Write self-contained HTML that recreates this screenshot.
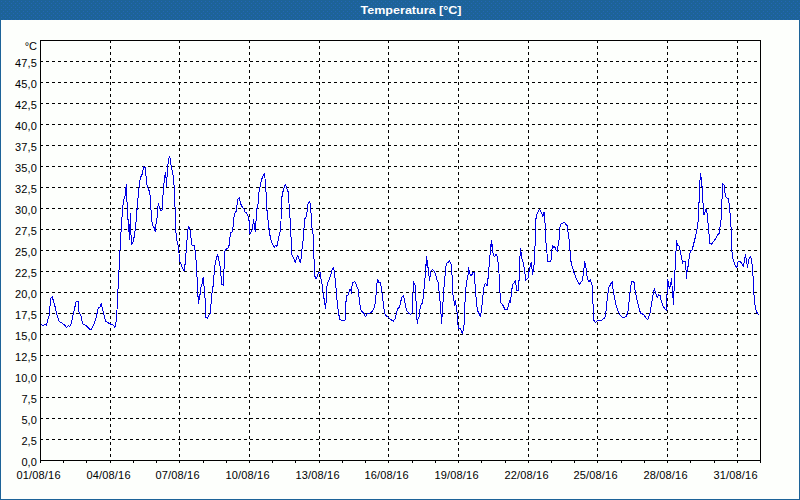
<!DOCTYPE html>
<html><head><meta charset="utf-8"><title>Temperatura</title>
<style>html,body{margin:0;padding:0;background:#fff;}body{width:800px;height:500px;overflow:hidden;font-family:"Liberation Sans",sans-serif;}svg{display:block;}text{font-family:"Liberation Sans",sans-serif;}</style>
</head><body>
<svg width="800" height="500" viewBox="0 0 800 500">
<rect x="0" y="0" width="800" height="500" fill="#1d6398"/>
<rect x="1" y="20" width="798" height="479" fill="#fdfffc"/>
<defs><pattern id="dz" x="0" y="0" width="4" height="4" patternUnits="userSpaceOnUse"><rect x="1" y="1" width="1" height="1" fill="#2366b6"/><rect x="3" y="3" width="1" height="1" fill="#2366b6"/></pattern></defs>
<rect x="0" y="0" width="800" height="20" fill="url(#dz)" shape-rendering="crispEdges"/>
<text x="411" y="14" text-anchor="middle" font-size="11px" font-weight="bold" fill="#ffffff" textLength="101" lengthAdjust="spacingAndGlyphs">Temperatura [°C]</text>
<g shape-rendering="crispEdges" stroke="#000" stroke-width="1" fill="none">
<line x1="40" y1="61.5" x2="760" y2="61.5" stroke-dasharray="3 3"/>
<line x1="40" y1="82.5" x2="760" y2="82.5" stroke-dasharray="3 3"/>
<line x1="40" y1="103.5" x2="760" y2="103.5" stroke-dasharray="3 3"/>
<line x1="40" y1="124.5" x2="760" y2="124.5" stroke-dasharray="3 3"/>
<line x1="40" y1="145.5" x2="760" y2="145.5" stroke-dasharray="3 3"/>
<line x1="40" y1="166.5" x2="760" y2="166.5" stroke-dasharray="3 3"/>
<line x1="40" y1="187.5" x2="760" y2="187.5" stroke-dasharray="3 3"/>
<line x1="40" y1="208.5" x2="760" y2="208.5" stroke-dasharray="3 3"/>
<line x1="40" y1="229.5" x2="760" y2="229.5" stroke-dasharray="3 3"/>
<line x1="40" y1="250.5" x2="760" y2="250.5" stroke-dasharray="3 3"/>
<line x1="40" y1="271.5" x2="760" y2="271.5" stroke-dasharray="3 3"/>
<line x1="40" y1="292.5" x2="760" y2="292.5" stroke-dasharray="3 3"/>
<line x1="40" y1="313.5" x2="760" y2="313.5" stroke-dasharray="3 3"/>
<line x1="40" y1="334.5" x2="760" y2="334.5" stroke-dasharray="3 3"/>
<line x1="40" y1="355.5" x2="760" y2="355.5" stroke-dasharray="3 3"/>
<line x1="40" y1="376.5" x2="760" y2="376.5" stroke-dasharray="3 3"/>
<line x1="40" y1="397.5" x2="760" y2="397.5" stroke-dasharray="3 3"/>
<line x1="40" y1="418.5" x2="760" y2="418.5" stroke-dasharray="3 3"/>
<line x1="40" y1="439.5" x2="760" y2="439.5" stroke-dasharray="3 3"/>
<line x1="110.5" y1="40" x2="110.5" y2="460" stroke-dasharray="3 3"/>
<line x1="179.5" y1="40" x2="179.5" y2="460" stroke-dasharray="3 3"/>
<line x1="249.5" y1="40" x2="249.5" y2="460" stroke-dasharray="3 3"/>
<line x1="319.5" y1="40" x2="319.5" y2="460" stroke-dasharray="3 3"/>
<line x1="388.5" y1="40" x2="388.5" y2="460" stroke-dasharray="3 3"/>
<line x1="458.5" y1="40" x2="458.5" y2="460" stroke-dasharray="3 3"/>
<line x1="528.5" y1="40" x2="528.5" y2="460" stroke-dasharray="3 3"/>
<line x1="597.5" y1="40" x2="597.5" y2="460" stroke-dasharray="3 3"/>
<line x1="667.5" y1="40" x2="667.5" y2="460" stroke-dasharray="3 3"/>
<line x1="737.5" y1="40" x2="737.5" y2="460" stroke-dasharray="3 3"/>
<rect x="40.5" y="40.5" width="720" height="420"/>
<line x1="40.5" y1="461" x2="40.5" y2="463"/>
<line x1="63.5" y1="461" x2="63.5" y2="463"/>
<line x1="86.5" y1="461" x2="86.5" y2="463"/>
<line x1="110.5" y1="461" x2="110.5" y2="463"/>
<line x1="133.5" y1="461" x2="133.5" y2="463"/>
<line x1="156.5" y1="461" x2="156.5" y2="463"/>
<line x1="179.5" y1="461" x2="179.5" y2="463"/>
<line x1="203.5" y1="461" x2="203.5" y2="463"/>
<line x1="226.5" y1="461" x2="226.5" y2="463"/>
<line x1="249.5" y1="461" x2="249.5" y2="463"/>
<line x1="272.5" y1="461" x2="272.5" y2="463"/>
<line x1="295.5" y1="461" x2="295.5" y2="463"/>
<line x1="319.5" y1="461" x2="319.5" y2="463"/>
<line x1="342.5" y1="461" x2="342.5" y2="463"/>
<line x1="365.5" y1="461" x2="365.5" y2="463"/>
<line x1="388.5" y1="461" x2="388.5" y2="463"/>
<line x1="412.5" y1="461" x2="412.5" y2="463"/>
<line x1="435.5" y1="461" x2="435.5" y2="463"/>
<line x1="458.5" y1="461" x2="458.5" y2="463"/>
<line x1="481.5" y1="461" x2="481.5" y2="463"/>
<line x1="505.5" y1="461" x2="505.5" y2="463"/>
<line x1="528.5" y1="461" x2="528.5" y2="463"/>
<line x1="551.5" y1="461" x2="551.5" y2="463"/>
<line x1="574.5" y1="461" x2="574.5" y2="463"/>
<line x1="597.5" y1="461" x2="597.5" y2="463"/>
<line x1="621.5" y1="461" x2="621.5" y2="463"/>
<line x1="644.5" y1="461" x2="644.5" y2="463"/>
<line x1="667.5" y1="461" x2="667.5" y2="463"/>
<line x1="690.5" y1="461" x2="690.5" y2="463"/>
<line x1="714.5" y1="461" x2="714.5" y2="463"/>
<line x1="737.5" y1="461" x2="737.5" y2="463"/>
<line x1="760.5" y1="461" x2="760.5" y2="463"/>
</g>
<g font-size="11px" fill="#000">
<text x="37" y="50" text-anchor="end">°C</text>
<text x="36.8" y="67" text-anchor="end" textLength="21.9" lengthAdjust="spacing">47,5</text>
<text x="36.8" y="88" text-anchor="end" textLength="21.9" lengthAdjust="spacing">45,0</text>
<text x="36.8" y="109" text-anchor="end" textLength="21.9" lengthAdjust="spacing">42,5</text>
<text x="36.8" y="130" text-anchor="end" textLength="21.9" lengthAdjust="spacing">40,0</text>
<text x="36.8" y="151" text-anchor="end" textLength="21.9" lengthAdjust="spacing">37,5</text>
<text x="36.8" y="172" text-anchor="end" textLength="21.9" lengthAdjust="spacing">35,0</text>
<text x="36.8" y="193" text-anchor="end" textLength="21.9" lengthAdjust="spacing">32,5</text>
<text x="36.8" y="214" text-anchor="end" textLength="21.9" lengthAdjust="spacing">30,0</text>
<text x="36.8" y="235" text-anchor="end" textLength="21.9" lengthAdjust="spacing">27,5</text>
<text x="36.8" y="256" text-anchor="end" textLength="21.9" lengthAdjust="spacing">25,0</text>
<text x="36.8" y="277" text-anchor="end" textLength="21.9" lengthAdjust="spacing">22,5</text>
<text x="36.8" y="298" text-anchor="end" textLength="21.9" lengthAdjust="spacing">20,0</text>
<text x="36.8" y="319" text-anchor="end" textLength="21.9" lengthAdjust="spacing">17,5</text>
<text x="36.8" y="340" text-anchor="end" textLength="21.9" lengthAdjust="spacing">15,0</text>
<text x="36.8" y="361" text-anchor="end" textLength="21.9" lengthAdjust="spacing">12,5</text>
<text x="36.8" y="382" text-anchor="end" textLength="21.9" lengthAdjust="spacing">10,0</text>
<text x="36.8" y="403" text-anchor="end">7,5</text>
<text x="36.8" y="424" text-anchor="end">5,0</text>
<text x="36.8" y="445" text-anchor="end">2,5</text>
<text x="36.8" y="466" text-anchor="end">0,0</text>
<text x="38.5" y="479" text-anchor="middle" textLength="44" lengthAdjust="spacing">01/08/16</text>
<text x="108.5" y="479" text-anchor="middle" textLength="44" lengthAdjust="spacing">04/08/16</text>
<text x="177.5" y="479" text-anchor="middle" textLength="44" lengthAdjust="spacing">07/08/16</text>
<text x="247.5" y="479" text-anchor="middle" textLength="44" lengthAdjust="spacing">10/08/16</text>
<text x="317.5" y="479" text-anchor="middle" textLength="44" lengthAdjust="spacing">13/08/16</text>
<text x="386.5" y="479" text-anchor="middle" textLength="44" lengthAdjust="spacing">16/08/16</text>
<text x="456.5" y="479" text-anchor="middle" textLength="44" lengthAdjust="spacing">19/08/16</text>
<text x="526.5" y="479" text-anchor="middle" textLength="44" lengthAdjust="spacing">22/08/16</text>
<text x="595.5" y="479" text-anchor="middle" textLength="44" lengthAdjust="spacing">25/08/16</text>
<text x="665.5" y="479" text-anchor="middle" textLength="44" lengthAdjust="spacing">28/08/16</text>
<text x="735.5" y="479" text-anchor="middle" textLength="44" lengthAdjust="spacing">31/08/16</text>
</g>
<polyline shape-rendering="crispEdges" fill="none" stroke="#0000e6" stroke-width="1" stroke-linejoin="bevel" points="40.5,324.6 41.4,324.6 43.2,325.4 45.0,324.2 46.5,325.2 48.0,319.2 49.4,314.4 50.6,298.8 52.2,296.6 52.8,298.8 55.2,307.2 57.6,317.4 59.4,321.6 61.8,322.8 64.8,325.2 66.6,327.4 68.4,325.8 70.0,326.4 71.4,322.8 73.2,314.4 76.2,301.4 78.2,301.4 79.0,312.0 81.0,315.6 82.6,324.0 84.6,324.6 87.6,327.0 89.8,329.2 91.4,329.2 94.2,324.0 96.0,318.0 98.2,308.4 100.2,306.6 101.4,303.6 102.0,307.2 103.8,314.4 105.6,321.0 108.0,322.8 110.4,324.0 112.8,324.6 115.0,327.4 116.0,322.0 117.0,310.0 118.0,289.5 119.0,270.0 120.0,250.0 121.0,232.0 122.0,217.0 123.0,205.0 124.0,199.0 125.4,195.0 126.0,187.2 126.6,184.2 126.8,198.0 127.4,209.0 127.6,218.0 128.4,221.0 129.0,232.4 129.6,239.6 130.0,224.0 130.4,213.2 130.8,230.0 131.4,244.4 133.2,241.4 134.6,234.8 135.8,224.0 136.8,212.0 137.5,204.0 138.0,198.0 139.4,184.8 140.4,177.6 142.0,174.6 143.6,166.8 145.2,167.4 145.8,174.0 147.0,184.8 148.2,189.0 149.4,191.4 150.6,199.2 150.8,206.0 151.4,218.0 152.6,225.8 154.2,227.6 155.4,231.8 156.0,224.0 157.2,216.8 157.8,208.4 158.4,203.0 159.0,206.2 160.2,210.0 162.1,210.0 162.5,206.0 163.2,191.0 164.4,178.8 165.6,172.2 166.2,181.2 166.4,187.2 166.8,180.0 167.6,168.0 168.6,159.0 169.6,156.6 170.4,160.2 171.4,168.0 172.8,172.8 173.8,181.2 174.5,194.4 175.0,207.0 175.4,215.6 175.8,231.2 176.8,240.0 178.0,245.0 179.0,253.4 179.7,261.0 181.4,265.4 183.2,269.6 184.4,270.8 185.5,259.5 186.7,245.0 187.6,231.2 188.6,226.4 190.0,229.6 190.9,237.0 192.0,245.0 194.5,245.3 195.3,252.2 196.4,264.8 197.0,276.8 197.6,278.0 197.8,293.0 198.4,303.8 199.2,294.2 199.6,299.6 200.6,288.2 201.8,285.6 202.6,280.0 203.4,276.8 203.8,286.0 204.8,287.6 205.2,306.8 205.6,317.0 207.2,318.4 209.0,315.2 210.2,313.4 210.8,307.4 211.6,296.6 212.6,287.0 213.8,286.2 214.0,275.6 215.0,264.8 216.2,258.8 217.6,254.6 219.0,261.2 220.4,268.4 221.0,275.6 221.7,284.6 223.4,285.3 223.6,269.6 224.4,268.4 224.6,251.6 225.8,249.4 227.6,248.4 228.9,246.5 229.6,240.2 230.5,233.0 232.1,231.8 233.2,225.6 233.8,219.0 234.4,214.2 236.2,211.2 237.6,199.8 239.4,197.4 240.4,203.4 242.2,207.0 244.0,208.8 245.2,212.4 246.4,213.0 248.2,216.6 249.4,222.4 250.0,233.6 251.8,230.6 252.6,228.8 253.5,219.1 254.2,224.0 255.4,232.4 255.9,224.8 256.2,214.2 257.4,205.8 258.4,203.4 258.6,193.8 260.0,186.6 261.4,180.6 262.6,176.4 264.4,173.4 265.0,178.2 265.4,187.8 266.2,193.8 266.8,208.2 267.6,217.0 268.6,223.6 269.2,230.6 270.4,237.8 272.2,243.2 274.4,247.4 275.8,245.0 277.0,246.4 277.8,243.2 278.4,238.4 280.0,231.8 281.0,222.0 281.2,202.2 282.4,193.8 284.2,187.2 285.6,184.2 287.0,189.0 288.4,192.6 289.0,203.4 289.6,210.6 290.2,220.6 290.8,233.0 291.4,243.8 291.8,254.6 293.2,257.0 295.4,262.4 296.4,258.8 297.6,255.2 298.6,258.2 300.2,262.4 301.4,257.0 302.2,246.2 303.4,238.4 303.8,230.6 304.6,219.8 305.2,218.0 306.5,216.7 307.6,205.8 308.2,203.4 309.6,201.6 310.6,204.6 311.0,213.0 311.6,215.4 311.8,227.0 313.0,234.2 313.6,240.2 314.0,259.4 314.5,260.4 314.6,275.6 316.4,279.2 318.0,274.4 319.2,272.0 320.2,272.0 320.6,276.8 322.2,285.2 323.4,294.8 324.6,302.0 325.6,308.6 326.4,297.2 327.2,283.4 329.4,279.2 330.6,275.6 331.8,270.2 333.4,267.4 334.2,271.4 334.8,275.6 335.4,283.4 336.2,288.8 337.0,300.2 338.2,311.0 339.4,317.6 340.2,320.0 345.0,320.2 345.4,308.6 346.5,296.0 348.6,294.8 349.4,288.8 350.4,291.2 351.0,288.8 351.4,293.6 352.2,283.4 353.4,282.2 354.6,281.4 355.8,283.4 357.0,287.0 358.2,289.4 358.8,294.8 359.8,304.4 361.0,309.8 362.4,312.2 364.2,313.4 365.4,317.0 367.2,314.0 370.8,312.8 372.6,311.0 374.2,308.0 375.4,302.0 376.2,292.4 376.8,284.0 377.6,279.2 378.8,282.2 380.4,282.8 381.4,287.6 382.2,294.8 383.4,304.4 384.6,313.4 385.8,315.5 388.2,317.3 390.6,319.4 393.2,321.4 395.4,318.4 396.3,314.0 397.6,308.9 399.4,307.4 400.4,303.0 401.8,297.3 403.4,295.4 404.8,301.8 406.0,308.4 407.4,311.6 409.0,313.4 410.6,314.6 412.0,313.4 412.4,300.0 413.1,291.6 413.6,281.4 414.4,284.2 415.4,285.4 415.6,298.0 416.4,303.6 416.8,317.6 417.4,323.6 418.0,318.8 419.0,317.0 419.8,310.2 420.8,305.7 422.3,303.0 423.3,297.6 423.6,290.8 424.4,287.2 425.0,278.8 425.4,268.0 426.2,263.2 426.4,256.0 427.0,265.6 427.4,260.2 427.8,266.8 428.6,269.2 429.0,276.4 429.6,281.4 430.4,272.2 432.4,269.2 434.2,271.6 435.4,274.0 436.6,278.8 438.4,283.0 439.0,290.8 439.6,293.4 440.2,304.2 440.9,312.0 441.6,323.6 442.0,317.6 442.6,306.2 443.3,299.4 443.8,290.8 444.4,280.0 445.4,274.0 445.8,266.8 446.8,263.2 448.6,262.0 449.4,260.2 450.6,263.8 451.6,265.0 452.2,278.8 452.8,284.8 453.0,295.2 454.0,300.6 455.0,305.4 455.4,300.3 456.1,305.7 457.0,312.0 457.6,323.6 458.8,328.4 460.6,329.0 462.4,333.8 463.6,329.0 464.6,320.0 464.9,305.4 465.4,289.6 466.6,284.8 467.4,275.8 468.2,274.6 468.4,267.4 469.0,274.0 469.4,270.4 469.8,274.0 470.8,275.6 472.0,274.6 473.2,272.2 474.2,272.8 474.6,278.8 475.5,289.8 476.3,301.2 476.8,305.6 478.0,311.6 479.2,314.0 480.4,316.4 481.2,311.6 482.3,303.0 482.8,296.2 483.6,290.5 484.0,286.6 485.2,283.3 486.7,285.1 487.6,285.4 487.7,278.8 488.7,277.6 489.0,267.4 489.8,258.0 490.3,251.4 490.6,247.4 491.4,240.2 491.8,246.8 492.2,244.4 492.6,250.4 493.6,255.6 494.9,256.3 496.0,254.1 497.2,256.2 497.8,261.0 498.6,264.4 499.0,273.4 499.6,289.6 500.2,294.4 500.6,302.8 502.6,304.6 505.0,309.6 507.4,309.6 508.6,304.0 509.8,300.4 510.4,302.8 511.0,297.4 511.6,290.8 512.8,284.2 514.0,283.0 515.4,280.6 516.0,284.8 516.6,290.2 518.4,290.2 518.8,281.2 519.6,278.8 519.8,260.8 520.4,248.0 521.0,256.4 521.2,251.6 521.8,257.6 522.2,259.6 523.0,262.0 524.2,268.0 525.0,274.0 525.6,280.6 527.2,278.8 528.4,277.6 529.0,271.6 530.2,265.6 531.4,262.6 532.0,269.2 532.6,274.6 533.4,269.8 534.2,264.0 534.4,246.8 535.2,245.6 535.6,221.6 536.4,215.6 537.6,213.2 538.6,210.2 539.6,209.0 540.4,210.8 541.6,213.2 542.8,216.8 543.6,213.2 544.4,212.0 544.6,221.6 545.4,225.2 545.8,240.8 546.5,246.6 547.0,253.4 547.6,261.4 550.0,261.6 551.2,259.6 551.6,252.6 552.4,245.0 553.6,247.4 554.8,246.8 555.6,249.2 557.2,251.6 557.8,248.0 558.4,242.0 559.4,238.4 559.8,228.8 560.4,224.6 562.0,223.4 563.4,222.8 564.4,222.2 565.6,224.0 567.4,225.8 568.0,232.4 568.8,236.0 569.4,244.4 570.0,250.6 570.6,258.4 571.4,264.4 572.8,268.0 574.2,273.1 576.0,277.9 577.8,281.5 579.7,284.8 580.6,282.4 582.2,280.6 583.4,274.0 584.0,268.0 584.6,261.4 585.8,265.0 586.4,272.2 587.6,278.8 589.0,281.8 590.2,279.4 591.4,283.6 592.4,285.4 592.6,298.0 593.0,303.5 593.6,319.8 595.4,322.4 597.2,321.0 599.0,320.4 601.4,320.4 603.8,318.6 605.4,316.8 606.2,309.5 606.9,301.7 607.8,294.5 608.6,287.6 609.8,286.0 611.0,283.6 612.4,281.4 612.8,287.2 613.5,292.7 614.6,298.1 615.8,304.4 617.5,309.8 619.4,313.8 621.2,316.4 623.0,317.4 624.8,317.4 626.2,316.2 627.4,313.8 628.4,309.0 629.5,297.0 630.3,289.0 631.6,281.4 633.8,281.4 634.4,284.6 635.3,291.8 636.2,296.2 637.4,301.4 639.2,308.6 640.6,313.6 642.2,313.8 644.0,315.0 645.8,317.4 647.6,319.8 648.8,316.8 650.0,313.2 651.2,305.3 652.4,298.7 653.6,291.8 654.4,288.5 655.4,292.1 656.6,295.5 657.4,298.1 658.4,294.5 660.2,295.7 661.4,301.7 663.2,306.2 665.6,309.8 666.7,310.8 666.9,295.0 667.4,292.6 667.6,278.8 668.4,283.6 669.4,288.4 670.6,284.8 671.6,278.2 672.0,285.4 672.4,295.0 673.0,297.4 673.4,304.6 673.8,295.0 674.2,286.6 674.8,274.6 675.5,260.0 675.6,252.2 676.4,250.4 676.6,240.2 677.4,245.0 679.0,245.6 680.2,250.4 681.4,257.0 682.2,261.2 682.6,263.6 683.4,261.2 685.4,261.2 686.0,269.7 686.4,278.8 686.8,273.6 687.6,269.4 688.6,262.4 689.4,255.8 690.4,251.0 692.2,249.8 693.4,245.0 695.2,237.8 696.6,231.8 697.4,226.5 698.2,221.0 698.4,203.4 699.4,202.2 699.6,181.2 700.4,179.4 700.6,172.8 701.2,178.8 701.6,178.2 702.0,186.6 702.6,187.2 703.0,203.4 703.6,204.0 703.8,215.4 704.8,212.4 705.4,210.0 706.2,208.8 706.8,212.4 707.4,213.6 707.8,220.6 708.7,229.0 709.6,243.2 711.4,244.4 713.2,242.0 715.0,239.6 716.8,236.6 718.6,233.6 719.4,233.0 719.8,229.4 720.5,221.0 721.4,219.0 721.6,199.8 722.2,198.6 722.4,183.0 723.4,184.2 724.4,185.4 724.8,190.8 725.4,196.8 727.0,198.0 728.4,198.6 729.0,203.4 729.6,204.0 730.0,213.0 730.6,213.6 730.8,225.6 731.4,230.6 731.8,249.8 732.4,257.0 733.6,260.6 735.0,264.8 736.8,267.8 737.8,262.4 739.0,261.2 740.2,261.2 742.0,264.2 743.4,266.6 744.4,260.6 745.6,254.0 746.2,259.4 746.8,261.8 747.4,268.4 748.4,261.8 749.2,257.6 750.4,256.4 751.4,259.4 752.2,266.0 752.7,268.5 752.8,272.2 753.2,279.4 753.6,286.6 754.0,295.0 754.6,302.2 755.4,307.0 756.4,311.2 757.6,313.6 758.8,314.4"/>
</svg></body></html>
